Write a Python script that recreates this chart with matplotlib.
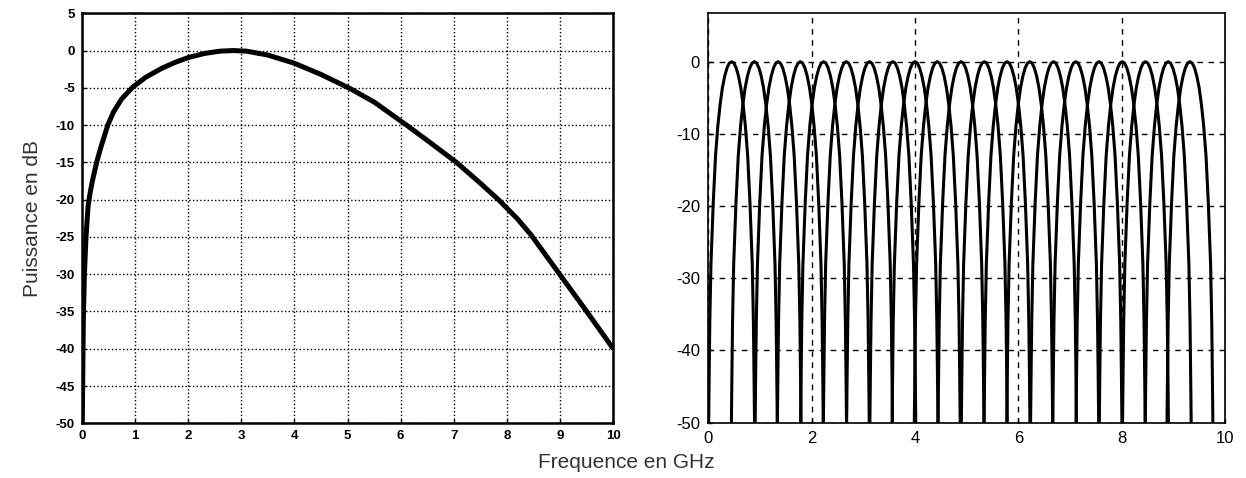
import numpy as np
import matplotlib
matplotlib.use("Agg")
from matplotlib import pyplot as plt

plt.rcParams['font.family'] = ['Liberation Sans', 'DejaVu Sans']
plt.rcParams['axes.unicode_minus'] = False

# left panel: power spectrum (GHz, dB)
freqLeft = [0.0, 0.01, 0.03, 0.05, 0.08, 0.12, 0.16, 0.2, 0.28, 0.35, 0.49, 0.6, 0.75, 0.96,
            1.2, 1.5, 1.75, 2.0, 2.3, 2.6, 2.85, 3.1, 3.5, 4.0, 4.5, 5.05, 5.5, 6.11, 6.5,
            7.05, 7.5, 7.84, 8.2, 8.45, 8.96, 9.5, 10.0]
powerLeft = [-50, -50, -36, -30, -25, -20.8, -19.0, -17.5, -15, -13.2, -10, -8.2, -6.5, -4.9,
             -3.6, -2.4, -1.6, -0.95, -0.4, -0.08, 0, -0.08, -0.6, -1.7, -3.2, -5.1, -6.9, -10,
             -12.05, -15, -17.8, -20, -22.6, -24.7, -29.7, -35.0, -40]

# right panel: peak positions of the 21 sub-band lobes (GHz)
lobePeaks = [0.45, 0.89, 1.35, 1.78, 2.23, 2.67, 3.12, 3.57, 4.00, 4.43, 4.89,
             5.34, 5.78, 6.22, 6.68, 7.11, 7.56, 8.01, 8.46, 8.90, 9.32]
lobeHalfWidth = 0.444
# one lobe profile: offset (fraction of half width) vs dB
lobeOffset = [-1.0, -0.98, -0.95, -0.9, -0.8, -0.7, -0.6, -0.5, -0.4, -0.3, -0.2, -0.1,
              0.0, 0.1, 0.2, 0.3, 0.4, 0.5, 0.6, 0.7, 0.8, 0.9, 0.95, 0.98, 1.0]
lobeDb = [-50, -44, -36, -28, -19.5, -13.0, -8.9, -5.9, -3.6, -2.0, -0.87, -0.2,
          0.0, -0.2, -0.87, -2.0, -3.6, -5.9, -8.9, -13.0, -19.5, -28, -36, -44, -50]

fig = plt.figure(figsize=(12.46, 4.78), dpi=100)
axL = fig.add_axes([0.0656, 0.1144, 0.4266, 0.8578])
axR = fig.add_axes([0.5685, 0.1157, 0.4147, 0.8565])

# ---- left
axL.plot(freqLeft, powerLeft, color='black', lw=3.6, solid_joinstyle='round', solid_capstyle='butt')
axL.set_xlim(0, 10)
axL.set_ylim(-50, 5)
axL.set_xticks(range(0, 11))
axL.set_yticks(range(-50, 6, 5))
axL.grid(True, linestyle=':', color='black', lw=1.0)
for s in axL.spines.values():
    s.set_linewidth(1.8)
axL.tick_params(direction='in', length=3, width=1, labelsize=9.5, pad=5)
for lab in axL.get_xticklabels() + axL.get_yticklabels():
    lab.set_fontweight('bold')
axL.set_ylabel("Puissance en dB", fontsize=15, color='#333333', labelpad=10)

# ---- right
off = np.array(lobeOffset) * lobeHalfWidth
for p in lobePeaks:
    axR.plot(p + off, lobeDb, color='black', lw=2.2)
axR.set_xlim(0, 10)
axR.set_ylim(-50, 6.7)
axR.set_xticks(range(0, 11, 2))
axR.set_yticks(range(-50, 1, 10))
axR.grid(True, linestyle=(0, (4, 4)), color='black', lw=1.0)
for s in axR.spines.values():
    s.set_linewidth(1.2)
axR.tick_params(direction='in', length=3, width=1, labelsize=12, pad=6)

fig.text(0.503, 0.033, "Frequence en GHz", ha='center', va='center', fontsize=15, color='#333333')

fig.savefig("out.png", dpi=100)
